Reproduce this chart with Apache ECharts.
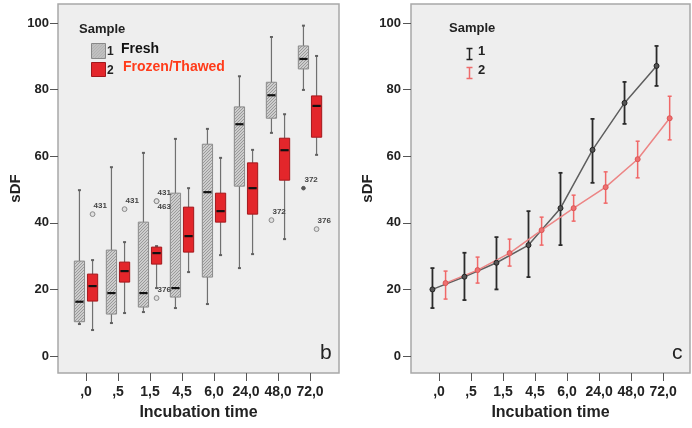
<!DOCTYPE html>
<html>
<head>
<meta charset="utf-8">
<script src="https://cdn.jsdelivr.net/npm/echarts@6/dist/echarts.min.js"></script>
<style>
  html, body { margin: 0; padding: 0; background: #fff; }
  #chart { width: 692px; height: 428px; }
</style>
</head>
<body>
<div id="chart"></div>
<script>
var times = [',0', ',5', '1,5', '4,5', '6,0', '24,0', '48,0', '72,0'];
var yTicks = [0, 20, 40, 60, 80, 100];
var xTicks = [0, 1, 2, 3, 4, 5, 6, 7];

// box plot (b): [whisker low, q1, median, q3, whisker high]
var freshBox = [
  [9.6, 10.3, 16.3, 28.5, 49.8],
  [9.9, 12.6, 18.9, 31.8, 56.7],
  [13.2, 14.7, 18.9, 40.2, 61.0],
  [14.4, 17.7, 20.4, 48.9, 65.2],
  [15.6, 23.7, 49.2, 63.6, 68.2],
  [26.4, 51.0, 69.6, 74.8, 84.0],
  [67.0, 71.4, 78.3, 82.2, 95.8],
  [79.9, 86.2, 89.2, 93.1, 99.2]
];
var frozenBox = [
  [7.8, 16.5, 21.0, 24.6, 28.8],
  [12.9, 22.2, 25.5, 28.2, 34.2],
  [20.4, 27.6, 30.9, 32.7, 33.0],
  [25.2, 31.2, 36.0, 44.7, 50.4],
  [30.3, 40.2, 43.5, 48.9, 59.5],
  [30.6, 42.6, 50.4, 58.0, 61.9],
  [35.1, 52.8, 61.8, 65.4, 72.6],
  [60.4, 65.7, 75.1, 78.1, 90.1]
];
// outliers: [time index, value, case id]
var freshOut = [[6, 40.8, '372']];
var freshExtreme = [[7, 50.4, '372']];
var frozenOut = [[0, 42.6, '431'], [1, 44.1, '431'], [2, 46.5, '431'], [2, 46.5, '463'], [2, 17.4, '376'], [7, 38.1, '376']];

// error bar chart (c): mean and CI
var freshMean = [20.0, 23.8, 28.0, 33.3, 44.4, 61.9, 76.0, 87.1];
var freshLo = [14.4, 16.8, 20.0, 23.7, 33.3, 52.0, 69.7, 81.1];
var freshHi = [26.4, 31.0, 35.7, 43.5, 55.0, 71.2, 82.3, 93.1];
var frozenMean = [21.9, 25.8, 30.9, 37.8, 44.4, 50.7, 59.1, 71.4];
var frozenLo = [17.1, 21.9, 27.0, 33.3, 40.5, 45.9, 53.5, 64.9];
var frozenHi = [25.5, 29.7, 35.1, 41.7, 48.3, 55.3, 64.5, 78.0];

var FONT = '"Liberation Sans", Arial, sans-serif';
var OFF = 0.205;     // group offset in time-slot units
var BOX_W = 0.32;

var chart = echarts.init(document.getElementById('chart'));

// hatch fill for the fresh boxes
var hatch = document.createElement('canvas');
hatch.width = 3; hatch.height = 3;
var hc = hatch.getContext('2d');
hc.fillStyle = '#cdcdcd'; hc.fillRect(0, 0, 3, 3);
hc.fillStyle = '#9a9a9a';
hc.fillRect(0, 2, 1, 1); hc.fillRect(1, 1, 1, 1); hc.fillRect(2, 0, 1, 1);
var hatchFill = { image: hatch, repeat: 'repeat' };

function boxRender(offset, fill, stroke) {
  return function (params, api) {
    var x = api.value(0) + offset;
    var lo = api.coord([x, api.value(1)]);
    var q1 = api.coord([x, api.value(2)]);
    var med = api.coord([x, api.value(3)]);
    var q3 = api.coord([x, api.value(4)]);
    var hi = api.coord([x, api.value(5)]);
    var w = api.size([BOX_W, 0])[0];
    var wl = { stroke: '#707070', lineWidth: 1.2 };
    var cap = { stroke: '#606060', lineWidth: 2 };
    return {
      type: 'group',
      children: [
        { type: 'line', shape: { x1: lo[0], y1: lo[1], x2: q1[0], y2: q1[1] }, style: wl },
        { type: 'line', shape: { x1: q3[0], y1: q3[1], x2: hi[0], y2: hi[1] }, style: wl },
        { type: 'line', shape: { x1: lo[0] - 1.5, y1: lo[1], x2: lo[0] + 1.5, y2: lo[1] }, style: cap },
        { type: 'line', shape: { x1: hi[0] - 1.5, y1: hi[1], x2: hi[0] + 1.5, y2: hi[1] }, style: cap },
        { type: 'rect', shape: { x: q3[0] - w / 2, y: q3[1], width: w, height: q1[1] - q3[1] },
          style: { fill: fill, stroke: stroke, lineWidth: 1 } },
        { type: 'line', shape: { x1: med[0] - w / 2 + 1, y1: med[1], x2: med[0] + w / 2 - 1, y2: med[1] },
          style: { stroke: '#111', lineWidth: 2.2 } }
      ]
    };
  };
}

function outlierRender(list, offset, extreme) {
  return function (params, api) {
    var o = list[params.dataIndex];
    var p = api.coord([api.value(0) + offset, api.value(1)]);
    var prev = list[params.dataIndex - 1];
    var below = prev && prev[0] === o[0] && prev[1] === o[1];
    return {
      type: 'group',
      children: [
        { type: 'circle', shape: { cx: p[0], cy: p[1], r: extreme ? 1.8 : 2.4 },
          style: extreme ? { fill: '#555', stroke: '#555' } : { fill: '#e0e0e0', stroke: '#8a8a8a', lineWidth: 1 } },
        { type: 'text', x: p[0] + 1, y: below ? p[1] + 6 : p[1] - 8,
          style: { text: o[2], fill: '#444', font: 'bold 8px ' + FONT, align: 'left', verticalAlign: 'middle' } }
      ]
    };
  };
}

function errRender(offset, color, width) {
  return function (params, api) {
    var x = api.value(0) + offset;
    var lo = api.coord([x, api.value(1)]);
    var hi = api.coord([x, api.value(2)]);
    var st = { stroke: color, lineWidth: width };
    return {
      type: 'group',
      children: [
        { type: 'line', shape: { x1: lo[0], y1: lo[1], x2: hi[0], y2: hi[1] }, style: st },
        { type: 'line', shape: { x1: lo[0] - 2, y1: lo[1], x2: lo[0] + 2, y2: lo[1] }, style: st },
        { type: 'line', shape: { x1: hi[0] - 2, y1: hi[1], x2: hi[0] + 2, y2: hi[1] }, style: st }
      ]
    };
  };
}

function xAxis(idx, max) {
  return {
    gridIndex: idx, type: 'value', min: -0.875, max: max,
    name: 'Incubation time', nameLocation: 'middle', nameGap: 32,
    nameTextStyle: { fontFamily: FONT, fontWeight: 'bold', fontSize: 16, color: '#222' },
    axisLine: { show: false, onZero: false }, splitLine: { show: false },
    axisTick: { show: true, length: 8, customValues: xTicks, lineStyle: { color: '#555' } },
    axisLabel: { customValues: xTicks, margin: 12, fontFamily: FONT, fontWeight: 'bold', fontSize: 14, color: '#222',
      formatter: function (v) { return times[Math.round(v)]; } }
  };
}

function yAxis(idx, gap, margin) {
  return {
    gridIndex: idx, type: 'value', min: -5.1, max: 105.7,
    name: 'sDF', nameLocation: 'middle', nameGap: gap,
    nameTextStyle: { fontFamily: FONT, fontWeight: 'bold', fontSize: 15, color: '#222' },
    axisLine: { show: false, onZero: false }, splitLine: { show: false },
    axisTick: { show: true, length: 8, customValues: yTicks, lineStyle: { color: '#555' } },
    axisLabel: { customValues: yTicks, margin: margin, fontFamily: FONT, fontWeight: 'bold', fontSize: 13, color: '#222' }
  };
}

var gridStyle = { show: true, backgroundColor: '#eeeeee', borderColor: '#a8a8a8', borderWidth: 1.5 };

chart.setOption({
  animation: false,
  backgroundColor: '#fff',
  grid: [
    Object.assign({ left: 58, top: 4, width: 281, height: 369 }, gridStyle),
    Object.assign({ left: 411, top: 4, width: 279, height: 369 }, gridStyle)
  ],
  xAxis: [xAxis(0, 7.906), xAxis(1, 7.84)],
  yAxis: [yAxis(0, 33, 9), yAxis(1, 30, 10)],
  graphic: [
    { type: 'text', left: 79, top: 23, style: { text: 'Sample', font: 'bold 13px ' + FONT, fill: '#222' } },
    { type: 'rect', left: 91, top: 43, shape: { width: 14, height: 15 }, style: { fill: hatchFill, stroke: '#888' } },
    { type: 'rect', left: 91, top: 62, shape: { width: 14, height: 14 }, style: { fill: '#e3262b', stroke: '#a0181c' } },
    { type: 'text', left: 107, top: 46, style: { text: '1', font: 'bold 12px ' + FONT, fill: '#222' } },
    { type: 'text', left: 107, top: 65, style: { text: '2', font: 'bold 12px ' + FONT, fill: '#222' } },
    { type: 'text', left: 121, top: 42, style: { text: 'Fresh', font: 'bold 14px ' + FONT, fill: '#111' } },
    { type: 'text', left: 123, top: 60, style: { text: 'Frozen/Thawed', font: 'bold 14px ' + FONT, fill: '#ff3b1a' } },
    { type: 'text', left: 320, top: 343, style: { text: 'b', font: '21px ' + FONT, fill: '#222' } },

    { type: 'text', left: 449, top: 22, style: { text: 'Sample', font: 'bold 13px ' + FONT, fill: '#222' } },
    { type: 'group', left: 464, top: 46, children: [
      { type: 'line', shape: { x1: 3, y1: 0, x2: 3, y2: 11 }, style: { stroke: '#222', lineWidth: 1.5 } },
      { type: 'line', shape: { x1: 0, y1: 0, x2: 6, y2: 0 }, style: { stroke: '#222', lineWidth: 1.5 } },
      { type: 'line', shape: { x1: 0, y1: 11, x2: 6, y2: 11 }, style: { stroke: '#222', lineWidth: 1.5 } }
    ] },
    { type: 'group', left: 464, top: 65, children: [
      { type: 'line', shape: { x1: 3, y1: 0, x2: 3, y2: 11 }, style: { stroke: '#ee6b6b', lineWidth: 1.5 } },
      { type: 'line', shape: { x1: 0, y1: 0, x2: 6, y2: 0 }, style: { stroke: '#ee6b6b', lineWidth: 1.5 } },
      { type: 'line', shape: { x1: 0, y1: 11, x2: 6, y2: 11 }, style: { stroke: '#ee6b6b', lineWidth: 1.5 } }
    ] },
    { type: 'text', left: 478, top: 45, style: { text: '1', font: 'bold 13px ' + FONT, fill: '#222' } },
    { type: 'text', left: 478, top: 64, style: { text: '2', font: 'bold 13px ' + FONT, fill: '#222' } },
    { type: 'text', left: 672, top: 343, style: { text: 'c', font: '21px ' + FONT, fill: '#222' } }
  ],
  series: [
    { type: 'custom', xAxisIndex: 0, yAxisIndex: 0, renderItem: boxRender(-OFF, hatchFill, '#8a8a8a'),
      data: freshBox.map(function (b, i) { return [i].concat(b); }), encode: { x: 0, y: [1, 2, 3, 4, 5] } },
    { type: 'custom', xAxisIndex: 0, yAxisIndex: 0, renderItem: boxRender(OFF, '#e3262b', '#a3171b'),
      data: frozenBox.map(function (b, i) { return [i].concat(b); }), encode: { x: 0, y: [1, 2, 3, 4, 5] } },
    { type: 'custom', xAxisIndex: 0, yAxisIndex: 0, renderItem: outlierRender(freshOut, -OFF, false),
      data: freshOut.map(function (o) { return [o[0], o[1]]; }), encode: { x: 0, y: 1 } },
    { type: 'custom', xAxisIndex: 0, yAxisIndex: 0, renderItem: outlierRender(freshExtreme, -OFF, true),
      data: freshExtreme.map(function (o) { return [o[0], o[1]]; }), encode: { x: 0, y: 1 } },
    { type: 'custom', xAxisIndex: 0, yAxisIndex: 0, renderItem: outlierRender(frozenOut, OFF, false),
      data: frozenOut.map(function (o) { return [o[0], o[1]]; }), encode: { x: 0, y: 1 } },

    { type: 'line', xAxisIndex: 1, yAxisIndex: 1, symbol: 'circle', symbolSize: 5,
      data: freshMean.map(function (v, i) { return [i - OFF, v]; }),
      lineStyle: { color: '#5e5e5e', width: 1.5 }, itemStyle: { color: '#555', borderColor: '#222', borderWidth: 1 } },
    { type: 'line', xAxisIndex: 1, yAxisIndex: 1, symbol: 'circle', symbolSize: 5,
      data: frozenMean.map(function (v, i) { return [i + OFF, v]; }),
      lineStyle: { color: '#ec8585', width: 1.5 }, itemStyle: { color: '#ee7070', borderColor: '#dd5555', borderWidth: 1 } },
    { type: 'custom', xAxisIndex: 1, yAxisIndex: 1, renderItem: errRender(-OFF, '#2a2a2a', 1.8),
      data: freshLo.map(function (lo, i) { return [i, lo, freshHi[i]]; }), encode: { x: 0, y: [1, 2] } },
    { type: 'custom', xAxisIndex: 1, yAxisIndex: 1, renderItem: errRender(OFF, '#f06868', 1.5),
      data: frozenLo.map(function (lo, i) { return [i, lo, frozenHi[i]]; }), encode: { x: 0, y: [1, 2] } }
  ]
});
window.addEventListener('resize', function () { chart.resize(); });
</script>
</body>
</html>
